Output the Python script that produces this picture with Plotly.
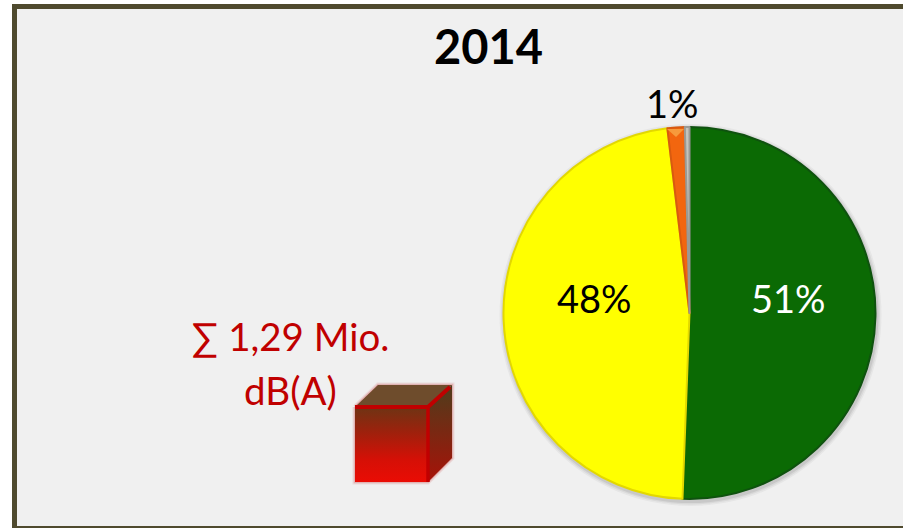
import plotly.graph_objects as go

W, H = 903, 528
# clockwise from 12 o'clock: green, yellow, orange, grey
slice_names = ["Grün", "Gelb", "Orange", "Grau"]
slice_values = [50.6, 47.5, 1.5, 0.4]
slice_colors = ["#0b6a04", "#ffff00", "#f2660f", "#c4c4bc"]
slice_lines = ["#0f520f", "#e3d800", "#d85a10", "#9a9a94"]
title_text = "2014"
value_labels = ["51%", "48%", "1%"]
sum_labels = ["∑ 1,29 Mio.", "dB(A)"]

CX, CY, R = 689.5, 313, 186

def px(x): return x / W
def py(y): return 1 - y / H

fig = go.Figure()

shapes = [
    dict(type="rect", xref="paper", yref="paper", x0=px(14.5), x1=px(960), y0=py(6.5), y1=py(528.5),
         fillcolor="#f0f0f0", line=dict(color="#4f4a2e", width=5), layer="below"),
]
# soft shadow under the pie
for grow, op in [(5, 0.05), (3.5, 0.07), (2, 0.10)]:
    shapes.append(dict(type="circle", xref="paper", yref="paper",
                       x0=px(CX - R - grow + 1), x1=px(CX + R + grow + 1),
                       y0=py(CY + R + grow + 2), y1=py(CY - R - grow + 2),
                       fillcolor=f"rgba(60,60,60,{op})", line_width=0, layer="below"))
# small bevel highlight at the top of the orange slice
shapes.append(dict(type="path", xref="paper", yref="paper", layer="above", line_width=0,
                   fillcolor="#f79a3c",
                   path=f"M{px(667)},{py(129)} L{px(684)},{py(129)} L{px(676)},{py(137)} Z"))

fig.add_trace(go.Pie(
    labels=slice_names, values=slice_values, sort=False, direction="clockwise", rotation=0,
    marker=dict(colors=slice_colors, line=dict(color=slice_lines, width=2)),
    textinfo="none", hoverinfo="label+percent", showlegend=False,
    domain=dict(x=[px(CX - R), px(CX + R)], y=[py(CY + R), py(CY - R)]),
))

def poly(xs, ys, grad=None, color=None, line=None, lw=0):
    kw = dict(x=xs, y=ys, mode="lines", fill="toself", showlegend=False, hoverinfo="skip",
              line=dict(color=line or "rgba(0,0,0,0)", width=lw))
    if grad:
        kw["fillgradient"] = dict(type="vertical", colorscale=grad)
    else:
        kw["fillcolor"] = color
    fig.add_trace(go.Scatter(**kw))

# cube: blurred halo, then faces and edges
hx = [355, 378, 452, 452, 428, 355, 355]
hy = [407, 385, 385, 458, 482, 482, 407]
poly(hx, hy, color="rgba(200,60,60,0.25)", line="rgba(215,120,120,0.18)", lw=5)
poly(hx, hy, color="rgba(200,60,60,0.25)", line="rgba(200,80,80,0.28)", lw=2.5)
poly([355, 378, 452, 428, 355], [407, 385, 385, 407, 407], color="#6e4c2c")
poly([428, 452, 452, 428, 428], [407, 385, 458, 482, 407],
     grad=[[0, "#a81208"], [1, "#4e3d1c"]])
poly([355, 428, 428, 355, 355], [407, 407, 482, 482, 407],
     grad=[[0, "#ea0c04"], [0.3, "#d51006"], [0.65, "#a0200c"], [1, "#6e3414"]])
fig.add_trace(go.Scatter(x=[355, 428, 450], y=[407, 407, 387], mode="lines", showlegend=False,
                         hoverinfo="skip", line=dict(color="#c00000", width=4)))
fig.add_trace(go.Scatter(x=[428, 428], y=[407, 482], mode="lines", showlegend=False,
                         hoverinfo="skip", line=dict(color="#c00000", width=3.5)))

FONT = "Lato, Carlito, 'Open Sans', sans-serif"
def note(x, y, text, size, color, bold=False):
    return dict(xref="paper", yref="paper", x=px(x), y=py(y), text=f"<b>{text}</b>" if bold else text,
                showarrow=False, xanchor="center", yanchor="middle",
                font=dict(family=FONT, size=size, color=color))

annotations = [
    note(488, 46, title_text, 47, "#000000", True),
    note(788, 298, value_labels[0], 38, "#ffffff"),
    note(594, 298, value_labels[1], 38, "#000000"),
    note(672, 103, value_labels[2], 38, "#000000"),
    note(290, 336, sum_labels[0], 38.5, "#c00000"),
    note(290, 390, sum_labels[1], 38.5, "#c00000"),
]

fig.update_layout(
    width=W, height=H, margin=dict(l=0, r=0, t=0, b=0),
    paper_bgcolor="#ffffff", plot_bgcolor="rgba(0,0,0,0)",
    xaxis=dict(range=[0, W], visible=False, fixedrange=True),
    yaxis=dict(range=[H, 0], visible=False, fixedrange=True),
    shapes=shapes, annotations=annotations, showlegend=False,
)
fig.write_html("out.html", post_script="document.body.style.margin='0';document.body.style.overflow='hidden';",
               config=dict(displayModeBar=False))
